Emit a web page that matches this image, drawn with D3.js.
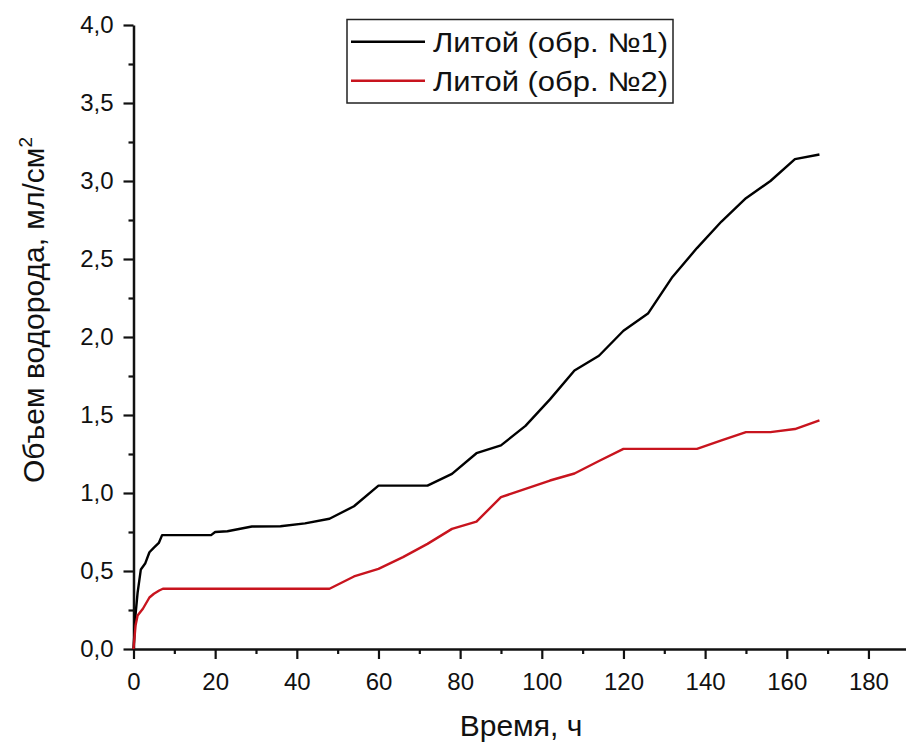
<!DOCTYPE html>
<html>
<head>
<meta charset="utf-8">
<script src="https://cdn.jsdelivr.net/npm/d3@7"></script>
<style>
  body { margin: 0; background: #fff; }
  svg text { font-family: Arial, "Liberation Sans", sans-serif; fill: #111; }
</style>
</head>
<body>
<script>
// Литой (обр. №1)
const time1 = [0, 0.5, 1, 1.8, 2.9, 3.9, 5, 6.2, 7, 19, 20, 23, 29, 36, 42, 48, 54, 60, 72, 78, 84, 90, 96, 102, 108, 114, 120, 126, 132, 138, 144, 150, 156, 162, 168];
const volume1 = [0, 0.22, 0.36, 0.51, 0.55, 0.62, 0.65, 0.68, 0.73, 0.73, 0.75, 0.755, 0.785, 0.787, 0.805, 0.835, 0.915, 1.047, 1.047, 1.123, 1.255, 1.305, 1.43, 1.6, 1.785, 1.88, 2.04, 2.15, 2.385, 2.57, 2.74, 2.89, 3.0, 3.14, 3.17];

// Литой (обр. №2)
const time2 = [0, 0.5, 1, 2.3, 3.9, 5, 6.3, 7.2, 48, 54, 60, 66, 72, 78, 84, 90, 96, 102, 108, 114, 120, 126, 132, 138, 144, 150, 156, 162, 168];
const volume2 = [0, 0.15, 0.215, 0.258, 0.33, 0.354, 0.375, 0.386, 0.386, 0.465, 0.514, 0.589, 0.674, 0.77, 0.817, 0.973, 1.027, 1.08, 1.125, 1.205, 1.283, 1.283, 1.283, 1.283, 1.337, 1.39, 1.39, 1.41, 1.465];

const seriesNames = ["Литой (обр. №1)", "Литой (обр. №2)"];
const seriesColors = ["#000000", "#c8141e"];

const xTicks = [0, 20, 40, 60, 80, 100, 120, 140, 160, 180];
const xMinorTicks = [10, 30, 50, 70, 90, 110, 130, 150, 170];
const yTicks = [0, 0.5, 1, 1.5, 2, 2.5, 3, 3.5, 4];
const yMinorTicks = [0.25, 0.75, 1.25, 1.75, 2.25, 2.75, 3.25, 3.75];

const width = 906, height = 744;

const x = d3.scaleLinear().domain([0, 189.2]).range([133.5, 906]);
const y = d3.scaleLinear().domain([0, 4]).range([649, 25]);

const svg = d3.select("body").append("svg")
  .attr("width", width)
  .attr("height", height);

const commaFmt = d => d3.format(".1f")(d).replace(".", ",");

// minor ticks first (no labels)
svg.append("g")
  .attr("transform", `translate(0,${y(0)})`)
  .call(d3.axisBottom(x).tickValues(xMinorTicks).tickSize(5).tickFormat(""))
  .call(g => g.select(".domain").remove());

svg.append("g")
  .attr("transform", `translate(${x(0)},0)`)
  .call(d3.axisLeft(y).tickValues(yMinorTicks).tickSize(5).tickFormat(""))
  .call(g => g.select(".domain").remove());

// main axes
const xAxis = svg.append("g")
  .attr("transform", `translate(0,${y(0)})`)
  .call(d3.axisBottom(x).tickValues(xTicks).tickSize(10).tickSizeOuter(0).tickPadding(14));

const yAxis = svg.append("g")
  .attr("transform", `translate(${x(0)},0)`)
  .call(d3.axisLeft(y).tickValues(yTicks).tickFormat(commaFmt).tickSize(10).tickSizeOuter(0).tickPadding(10));

svg.selectAll(".tick line").attr("stroke", "#111").attr("stroke-width", 2.2);
svg.selectAll(".domain").attr("stroke", "#111").attr("stroke-width", 2.5);
xAxis.selectAll("text").attr("font-size", 24).attr("fill", "#111");
yAxis.selectAll("text").attr("font-size", 24).attr("fill", "#111");

// lines
const line = d3.line()
  .x(d => x(d[0]))
  .y(d => y(d[1]));

const data1 = time1.map((t, i) => [t, volume1[i]]);
const data2 = time2.map((t, i) => [t, volume2[i]]);

[data1, data2].forEach((d, i) => {
  svg.append("path")
    .datum(d)
    .attr("fill", "none")
    .attr("stroke", seriesColors[i])
    .attr("stroke-width", 2.4)
    .attr("stroke-linejoin", "round")
    .attr("d", line);
});

// axis titles
svg.append("text")
  .attr("x", 521)
  .attr("y", 736)
  .attr("text-anchor", "middle")
  .attr("font-size", 30)
  .text("Время, ч");

const yTitle = svg.append("text")
  .attr("transform", `translate(44,310) rotate(-90)`)
  .attr("text-anchor", "middle")
  .attr("font-size", 30);
yTitle.append("tspan").text("Объем водорода, мл/см");
yTitle.append("tspan").attr("font-size", 19).attr("dy", -12).text("2");

// legend
const legend = svg.append("g");
legend.append("rect")
  .attr("x", 347).attr("y", 19.5)
  .attr("width", 326).attr("height", 83.5)
  .attr("fill", "#fff")
  .attr("stroke", "#222")
  .attr("stroke-width", 1.5);

seriesNames.forEach((name, i) => {
  const ly = 41.7 + i * 39;
  legend.append("line")
    .attr("x1", 351).attr("x2", 425)
    .attr("y1", ly).attr("y2", ly)
    .attr("stroke", seriesColors[i])
    .attr("stroke-width", 2.4);
  legend.append("text")
    .attr("x", 433)
    .attr("y", ly + 10)
    .attr("font-size", 27)
    .attr("textLength", 235)
    .attr("lengthAdjust", "spacingAndGlyphs")
    .text(name);
});
</script>
</body>
</html>
